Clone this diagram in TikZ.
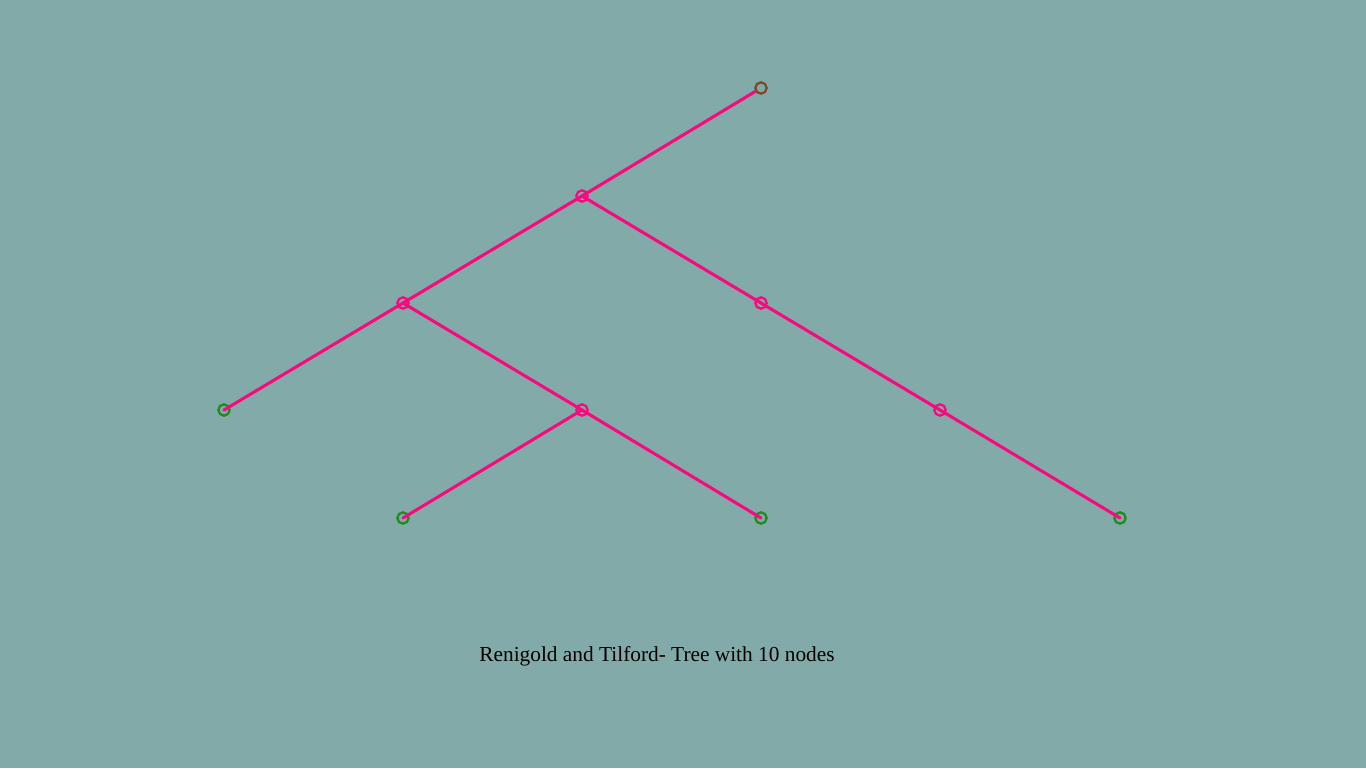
\documentclass[tikz,border=0pt]{standalone}
\usepackage{fontspec}
\setmainfont{Liberation Serif}
\usepackage{tikz}
\usetikzlibrary{positioning}
\usepackage{xcolor}
\definecolor{slate}{HTML}{82AAA8}
\definecolor{rose}{HTML}{F80A7E}
\definecolor{leafgreen}{HTML}{1E8C1E}
\definecolor{rootbrown}{HTML}{7A4A2A}
\tikzset{treenode/.style={circle,draw=rose,line width=1.7pt,inner sep=0pt,minimum size=8.5pt},
leafnode/.style={treenode,draw=leafgreen},
rootnode/.style={treenode,draw=rootbrown},
treeedge/.style={draw=rose,line width=2.3pt,line cap=round},
caption/.style={font=\fontsize{16}{18}\selectfont,text=black}}

\begin{document}
\begin{tikzpicture}[x=0.75pt,y=-0.75pt]
\fill[slate] (0,0) rectangle (1366,768);
\node[rootnode] (r) at (761,88) {};
\node[treenode] (a) at (582,196) {};
\node[treenode] (b) at (403,303) {};
\node[treenode] (c) at (761,303) {};
\node[leafnode] (d) at (224,410) {};
\node[treenode] (e) at (582,410) {};
\node[treenode] (f) at (940,410) {};
\node[leafnode] (g) at (403,518) {};
\node[leafnode] (h) at (761,518) {};
\node[leafnode] (k) at (1120,518) {};
\draw[treeedge] (r) -- (a.center);
\draw[treeedge] (a.center) -- (b.center);
\draw[treeedge] (a.center) -- (c.center);
\draw[treeedge] (b.center) -- (d.center);
\draw[treeedge] (b.center) -- (e.center);
\draw[treeedge] (c.center) -- (f.center);
\draw[treeedge] (e.center) -- (g.center);
\draw[treeedge] (e.center) -- (h.center);
\draw[treeedge] (f.center) -- (k.center);
\node[caption] (title) at (657,656) {Renigold and Tilford- Tree with 10 nodes};
\end{tikzpicture}
\end{document}
